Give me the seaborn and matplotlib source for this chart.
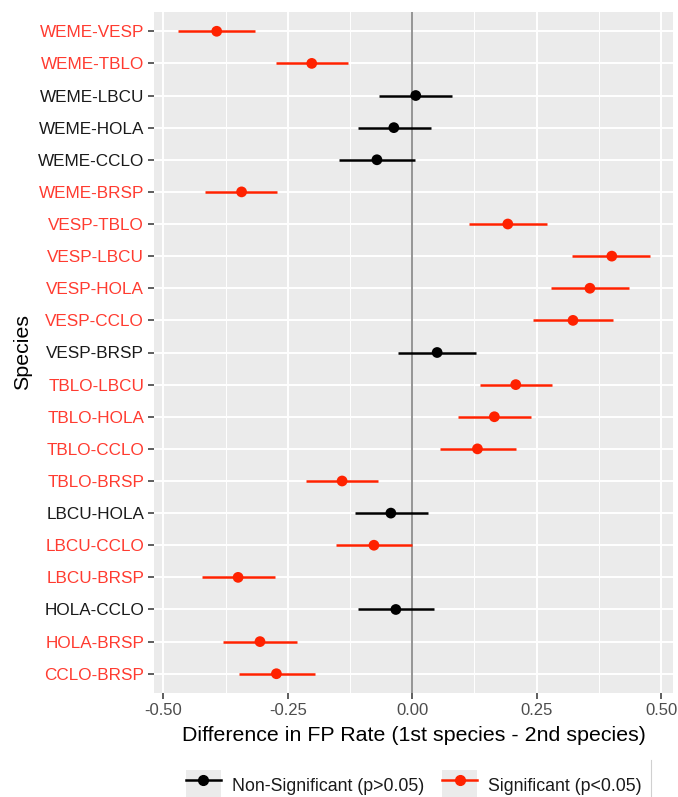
import numpy as np
import pandas as pd
import matplotlib
matplotlib.use("Agg")
import matplotlib.pyplot as plt
import seaborn as sns
from matplotlib.lines import Line2D
from matplotlib.patches import Rectangle
from matplotlib.legend_handler import HandlerTuple

# pairwise differences in FP rate with confidence limits
pairs = ["WEME-VESP", "WEME-TBLO", "WEME-LBCU", "WEME-HOLA", "WEME-CCLO", "WEME-BRSP",
         "VESP-TBLO", "VESP-LBCU", "VESP-HOLA", "VESP-CCLO", "VESP-BRSP",
         "TBLO-LBCU", "TBLO-HOLA", "TBLO-CCLO", "TBLO-BRSP",
         "LBCU-HOLA", "LBCU-CCLO", "LBCU-BRSP",
         "HOLA-CCLO", "HOLA-BRSP", "CCLO-BRSP"]
diff = [-0.393, -0.202, 0.007, -0.037, -0.071, -0.343,
        0.192, 0.401, 0.357, 0.323, 0.050,
        0.208, 0.165, 0.131, -0.141,
        -0.043, -0.077, -0.350,
        -0.033, -0.306, -0.273]
lower = [-0.470, -0.274, -0.066, -0.110, -0.147, -0.417,
         0.115, 0.322, 0.279, 0.243, -0.028,
         0.136, 0.092, 0.056, -0.214,
         -0.115, -0.153, -0.422,
         -0.110, -0.380, -0.348]
upper = [-0.316, -0.129, 0.079, 0.037, 0.005, -0.271,
         0.270, 0.478, 0.436, 0.404, 0.129,
         0.281, 0.239, 0.208, -0.068,
         0.031, 0.000, -0.276,
         0.044, -0.232, -0.196]
significant = [True, True, False, False, False, True,
               True, True, True, True, False,
               True, True, True, True,
               False, True, True,
               False, True, True]

RED = "#FF2200"
RED_TXT = "#FF3B30"
df = pd.DataFrame({"pair": pairs, "diff": diff, "lo": lower, "hi": upper,
                   "sig": ["Significant (p<0.05)" if s else "Non-Significant (p>0.05)" for s in significant]})
palette = {"Non-Significant (p>0.05)": "black", "Significant (p<0.05)": RED}

plt.rcParams["font.family"] = ["Liberation Sans", "DejaVu Sans"]

fig = plt.figure(figsize=(6.78, 7.97), dpi=100)
ax = fig.add_axes([154 / 678, 1 - 693 / 797, (673 - 154) / 678, (693 - 12) / 797])
ax.set_facecolor("#EBEBEB")

ax.axvline(0, color="#8C8C8C", lw=1.3, zorder=1)
ax.hlines(df["pair"], df["lo"], df["hi"], colors=df["sig"].map(palette), lw=1.8, zorder=2)
sns.scatterplot(data=df, x="diff", y="pair", hue="sig", palette=palette, s=60,
                edgecolor="none", legend=False, ax=ax, zorder=3)

ax.set_xlim(-0.519, 0.524)
ax.set_ylim(len(pairs) - 0.4, -0.6)
ax.set_xticks([-0.5, -0.25, 0, 0.25, 0.5])
ax.set_xticklabels(["-0.50", "-0.25", "0.00", "0.25", "0.50"])
ax.set_xticks([-0.375, -0.125, 0.125, 0.375], minor=True)
ax.grid(which="major", color="white", lw=1.4)
ax.grid(which="minor", axis="x", color="white", lw=0.7)
ax.set_axisbelow(True)
for s in ax.spines.values():
    s.set_visible(False)
ax.tick_params(axis="both", which="major", length=4, width=1.1, color="#333333",
               labelsize=12, labelcolor="#4D4D4D", pad=3)
ax.tick_params(axis="y", labelsize=12.3)
ax.tick_params(axis="x", which="minor", length=0)
for lab, s in zip(ax.get_yticklabels(), significant):
    lab.set_color(RED_TXT if s else "#1A1A1A")

ax.set_xlabel("Difference in FP Rate (1st species - 2nd species)", fontsize=15.4, labelpad=6)
ax.set_ylabel("Species", fontsize=15.4, labelpad=4)

handles = []
for lab, col in palette.items():
    box = Rectangle((0, 0), 1, 1, facecolor="#EBEBEB", edgecolor="none")
    ln = Line2D([], [], color=col, lw=1.8, marker="o", markersize=7)
    handles.append((box, ln))
fig.legend(handles, list(palette.keys()), handler_map={tuple: HandlerTuple(ndivide=1, pad=0)},
           loc="center", bbox_to_anchor=(0.61, 1 - 785 / 797), ncol=2, frameon=False,
           fontsize=12.8, handlelength=2.0, handleheight=2.2, handletextpad=0.6,
           columnspacing=1.0, labelcolor="#1A1A1A")
fig.add_artist(Line2D([651 / 678, 651 / 678], [0, 1 - 760 / 797], color="#D0D0D0", lw=0.8))

fig.savefig("out.png", dpi=100)
